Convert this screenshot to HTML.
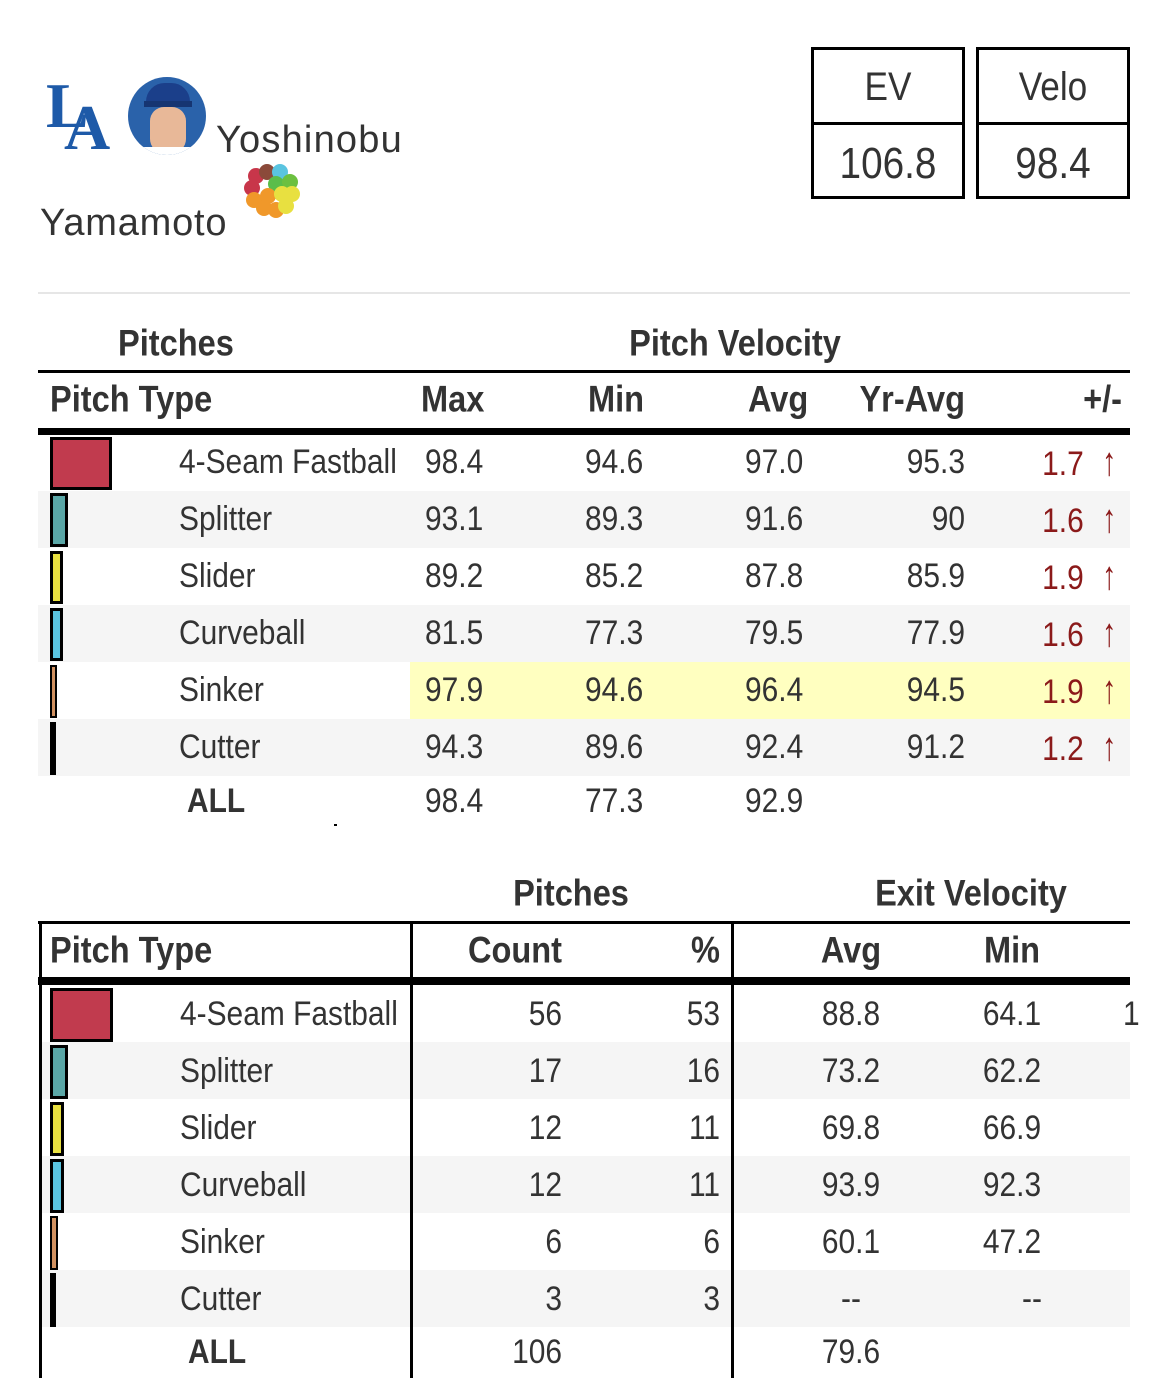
<!DOCTYPE html>
<html><head><meta charset="utf-8">
<style>
body{margin:0;background:#fff;width:1170px;height:1396px;position:relative;overflow:hidden;font-family:"Liberation Sans",sans-serif;color:#333}
.a{position:absolute}
.t{position:absolute;line-height:1;white-space:nowrap;transform:translateY(-50%) scaleX(.88);transform-origin:left center;font-size:34px}
.b{font-weight:bold;font-size:37px}
.r{text-align:right;transform-origin:right center}
.c{text-align:center;transform-origin:center center}
.up{color:#8b1a1a}
.up span{font-size:40px;font-weight:normal;display:inline-block;transform:scaleX(.8)}
.sw{position:absolute;box-sizing:border-box;border:3px solid #000}
</style></head><body>
<div class="a" style="left:46px;top:74px;font-family:'Liberation Serif',serif;font-weight:bold;color:#1e5aa8;font-size:64px;line-height:1">L</div>
<div class="a" style="left:64px;top:96px;font-family:'Liberation Serif',serif;font-weight:bold;color:#1e5aa8;font-size:64px;line-height:1">A</div>
<div class="a" style="left:128px;top:77px;width:78px;height:78px;border-radius:50%;background:#2a62aa;overflow:hidden">
 <div class="a" style="left:18px;top:6px;width:44px;height:22px;background:#1b3f8a;border-radius:22px 22px 4px 4px"></div>
 <div class="a" style="left:16px;top:24px;width:48px;height:6px;background:#163572"></div>
 <div class="a" style="left:22px;top:30px;width:36px;height:46px;background:#e8b898;border-radius:14px"></div>
 <div class="a" style="left:12px;top:70px;width:56px;height:14px;background:#fff"></div>
</div>
<div class="a" style="left:216px;top:121px;font-size:38px;line-height:1;color:#333;letter-spacing:1.2px">Yoshinobu</div>
<div class="a" style="left:40px;top:204px;font-size:38px;line-height:1;color:#333;letter-spacing:0.8px">Yamamoto</div>
<svg class="a" style="left:242px;top:162px" width="62" height="58">
<circle cx="14" cy="14" r="8" fill="#c8364a"/><circle cx="25" cy="10" r="8" fill="#8b4a3a"/><circle cx="38" cy="10" r="8" fill="#5ac4e0"/>
<circle cx="10" cy="26" r="8" fill="#c8364a"/><circle cx="34" cy="22" r="8" fill="#5bbd4a"/><circle cx="48" cy="20" r="8" fill="#6cc040"/>
<circle cx="12" cy="38" r="8" fill="#f0982a"/><circle cx="26" cy="34" r="8" fill="#f0982a"/><circle cx="40" cy="32" r="8" fill="#e8e040"/><circle cx="50" cy="32" r="8" fill="#e8e040"/>
<circle cx="22" cy="46" r="8" fill="#f0982a"/><circle cx="34" cy="48" r="8" fill="#f0982a"/><circle cx="44" cy="44" r="8" fill="#e8e040"/>
</svg>
<div class="a" style="left:811px;top:47px;width:148px;height:146px;border:3px solid #000"></div>
<div class="a" style="left:811px;top:122px;width:154px;height:3px;background:#000"></div>
<div class="a" style="left:976px;top:47px;width:148px;height:146px;border:3px solid #000"></div>
<div class="a" style="left:976px;top:122px;width:154px;height:3px;background:#000"></div>
<div class="t c" style="left:811px;width:154px;top:87px;font-size:40px">EV</div>
<div class="t c" style="left:976px;width:154px;top:87px;font-size:40px">Velo</div>
<div class="t c" style="left:811px;width:154px;top:164px;font-size:44px">106.8</div>
<div class="t c" style="left:976px;width:154px;top:164px;font-size:44px">98.4</div>
<div class="a" style="left:38px;top:292px;width:1092px;height:2px;background:#e6e6e6"></div>

<div class="t b" style="left:118px;top:343px">Pitches</div>
<div class="t b c" style="left:535px;width:400px;top:343px">Pitch Velocity</div>
<div class="a" style="left:38px;top:370px;width:1092px;height:3px;background:#000"></div>
<div class="t b" style="left:50px;top:399px">Pitch Type</div>
<div class="t b" style="left:421px;top:399px">Max</div>
<div class="t b" style="left:588px;top:399px">Min</div>
<div class="t b" style="left:748px;top:399px">Avg</div>
<div class="t b r" style="left:800px;width:165px;top:399px">Yr-Avg</div>
<div class="t b r" style="left:1000px;width:122px;top:399px">+/-</div>
<div class="a" style="left:38px;top:428px;width:1092px;height:7px;background:#000"></div>
<div class="a" style="left:38px;top:491px;width:1092px;height:57px;background:#f5f5f5"></div>
<div class="a" style="left:38px;top:605px;width:1092px;height:57px;background:#f5f5f5"></div>
<div class="a" style="left:410px;top:662px;width:720px;height:57px;background:#ffffc0"></div>
<div class="a" style="left:38px;top:719px;width:1092px;height:57px;background:#f5f5f5"></div>
<div class="sw" style="left:50px;top:437px;width:62px;height:53px;background:#c13b4e"></div>
<div class="sw" style="left:50px;top:493px;width:18px;height:54px;background:#5aa7a7"></div>
<div class="sw" style="left:50px;top:551px;width:13px;height:53px;background:#e8e040"></div>
<div class="sw" style="left:50px;top:608px;width:13px;height:53px;background:#5ac4e0"></div>
<div class="sw" style="left:50px;top:665px;width:7px;height:53px;background:#d09060;border-width:2px"></div>
<div class="a" style="left:50px;top:722px;width:6px;height:53px;background:#000"></div>
<div class="t" style="left:179px;top:462px">4-Seam Fastball</div>
<div class="t" style="left:179px;top:519px">Splitter</div>
<div class="t" style="left:179px;top:576px">Slider</div>
<div class="t" style="left:179px;top:633px">Curveball</div>
<div class="t" style="left:179px;top:690px">Sinker</div>
<div class="t" style="left:179px;top:747px">Cutter</div>
<div class="t b" style="left:187px;top:801px;font-size:34px">ALL</div>
<div class="t" style="left:425px;top:462px">98.4</div><div class="t" style="left:585px;top:462px">94.6</div><div class="t" style="left:745px;top:462px">97.0</div><div class="t r" style="left:800px;width:165px;top:462px">95.3</div><div class="t r up" style="left:950px;width:168px;top:462px">1.7 &nbsp;<span>↑</span></div>
<div class="t" style="left:425px;top:519px">93.1</div><div class="t" style="left:585px;top:519px">89.3</div><div class="t" style="left:745px;top:519px">91.6</div><div class="t r" style="left:800px;width:165px;top:519px">90</div><div class="t r up" style="left:950px;width:168px;top:519px">1.6 &nbsp;<span>↑</span></div>
<div class="t" style="left:425px;top:576px">89.2</div><div class="t" style="left:585px;top:576px">85.2</div><div class="t" style="left:745px;top:576px">87.8</div><div class="t r" style="left:800px;width:165px;top:576px">85.9</div><div class="t r up" style="left:950px;width:168px;top:576px">1.9 &nbsp;<span>↑</span></div>
<div class="t" style="left:425px;top:633px">81.5</div><div class="t" style="left:585px;top:633px">77.3</div><div class="t" style="left:745px;top:633px">79.5</div><div class="t r" style="left:800px;width:165px;top:633px">77.9</div><div class="t r up" style="left:950px;width:168px;top:633px">1.6 &nbsp;<span>↑</span></div>
<div class="t" style="left:425px;top:690px">97.9</div><div class="t" style="left:585px;top:690px">94.6</div><div class="t" style="left:745px;top:690px">96.4</div><div class="t r" style="left:800px;width:165px;top:690px">94.5</div><div class="t r up" style="left:950px;width:168px;top:690px">1.9 &nbsp;<span>↑</span></div>
<div class="t" style="left:425px;top:747px">94.3</div><div class="t" style="left:585px;top:747px">89.6</div><div class="t" style="left:745px;top:747px">92.4</div><div class="t r" style="left:800px;width:165px;top:747px">91.2</div><div class="t r up" style="left:950px;width:168px;top:747px">1.2 &nbsp;<span>↑</span></div>
<div class="t" style="left:425px;top:801px">98.4</div><div class="t" style="left:585px;top:801px">77.3</div><div class="t" style="left:745px;top:801px">92.9</div>
<div class="a" style="left:334px;top:824px;width:3px;height:2px;background:#000"></div>

<div class="t b c" style="left:471px;width:200px;top:893px">Pitches</div>
<div class="t b c" style="left:821px;width:300px;top:893px">Exit Velocity</div>
<div class="a" style="left:38px;top:921px;width:1092px;height:3px;background:#000"></div>
<div class="a" style="left:39px;top:921px;width:3px;height:457px;background:#000"></div>
<div class="a" style="left:410px;top:921px;width:3px;height:457px;background:#000"></div>
<div class="a" style="left:731px;top:921px;width:3px;height:457px;background:#000"></div>
<div class="t b" style="left:50px;top:950px">Pitch Type</div>
<div class="t b r" style="left:440px;width:122px;top:950px">Count</div>
<div class="t b r" style="left:620px;width:100px;top:950px">%</div>
<div class="t b c" style="left:801px;width:100px;top:950px">Avg</div>
<div class="t b c" style="left:962px;width:100px;top:950px">Min</div>
<div class="a" style="left:38px;top:977px;width:1092px;height:8px;background:#000"></div>
<div class="a" style="left:42px;top:1042px;width:368px;height:57px;background:#f5f5f5"></div><div class="a" style="left:413px;top:1042px;width:318px;height:57px;background:#f5f5f5"></div><div class="a" style="left:734px;top:1042px;width:396px;height:57px;background:#f5f5f5"></div>
<div class="a" style="left:42px;top:1156px;width:368px;height:57px;background:#f5f5f5"></div><div class="a" style="left:413px;top:1156px;width:318px;height:57px;background:#f5f5f5"></div><div class="a" style="left:734px;top:1156px;width:396px;height:57px;background:#f5f5f5"></div>
<div class="a" style="left:42px;top:1270px;width:368px;height:57px;background:#f5f5f5"></div><div class="a" style="left:413px;top:1270px;width:318px;height:57px;background:#f5f5f5"></div><div class="a" style="left:734px;top:1270px;width:396px;height:57px;background:#f5f5f5"></div>
<div class="sw" style="left:50px;top:988px;width:63px;height:54px;background:#c13b4e"></div>
<div class="sw" style="left:50px;top:1045px;width:18px;height:54px;background:#5aa7a7"></div>
<div class="sw" style="left:50px;top:1102px;width:14px;height:54px;background:#e8e040"></div>
<div class="sw" style="left:50px;top:1159px;width:14px;height:54px;background:#5ac4e0"></div>
<div class="sw" style="left:50px;top:1216px;width:8px;height:54px;background:#d09060;border-width:2px"></div>
<div class="a" style="left:50px;top:1273px;width:6px;height:54px;background:#000"></div>
<div class="t" style="left:180px;top:1014px">4-Seam Fastball</div>
<div class="t" style="left:180px;top:1071px">Splitter</div>
<div class="t" style="left:180px;top:1128px">Slider</div>
<div class="t" style="left:180px;top:1185px">Curveball</div>
<div class="t" style="left:180px;top:1242px">Sinker</div>
<div class="t" style="left:180px;top:1299px">Cutter</div>
<div class="t b" style="left:188px;top:1352px;font-size:34px">ALL</div>
<div class="t r" style="left:460px;width:102px;top:1014px">56</div><div class="t r" style="left:620px;width:100px;top:1014px">53</div><div class="t c" style="left:801px;width:100px;top:1014px">88.8</div><div class="t c" style="left:962px;width:100px;top:1014px">64.1</div><div class="t" style="left:1123px;top:1014px">1</div>
<div class="t r" style="left:460px;width:102px;top:1071px">17</div><div class="t r" style="left:620px;width:100px;top:1071px">16</div><div class="t c" style="left:801px;width:100px;top:1071px">73.2</div><div class="t c" style="left:962px;width:100px;top:1071px">62.2</div>
<div class="t r" style="left:460px;width:102px;top:1128px">12</div><div class="t r" style="left:620px;width:100px;top:1128px">11</div><div class="t c" style="left:801px;width:100px;top:1128px">69.8</div><div class="t c" style="left:962px;width:100px;top:1128px">66.9</div>
<div class="t r" style="left:460px;width:102px;top:1185px">12</div><div class="t r" style="left:620px;width:100px;top:1185px">11</div><div class="t c" style="left:801px;width:100px;top:1185px">93.9</div><div class="t c" style="left:962px;width:100px;top:1185px">92.3</div>
<div class="t r" style="left:460px;width:102px;top:1242px">6</div><div class="t r" style="left:620px;width:100px;top:1242px">6</div><div class="t c" style="left:801px;width:100px;top:1242px">60.1</div><div class="t c" style="left:962px;width:100px;top:1242px">47.2</div>
<div class="t r" style="left:460px;width:102px;top:1299px">3</div><div class="t r" style="left:620px;width:100px;top:1299px">3</div><div class="t c" style="left:801px;width:100px;top:1299px">--</div><div class="t c" style="left:982px;width:100px;top:1299px">--</div>
<div class="t r" style="left:460px;width:102px;top:1352px">106</div><div class="t c" style="left:801px;width:100px;top:1352px">79.6</div>
</body></html>
